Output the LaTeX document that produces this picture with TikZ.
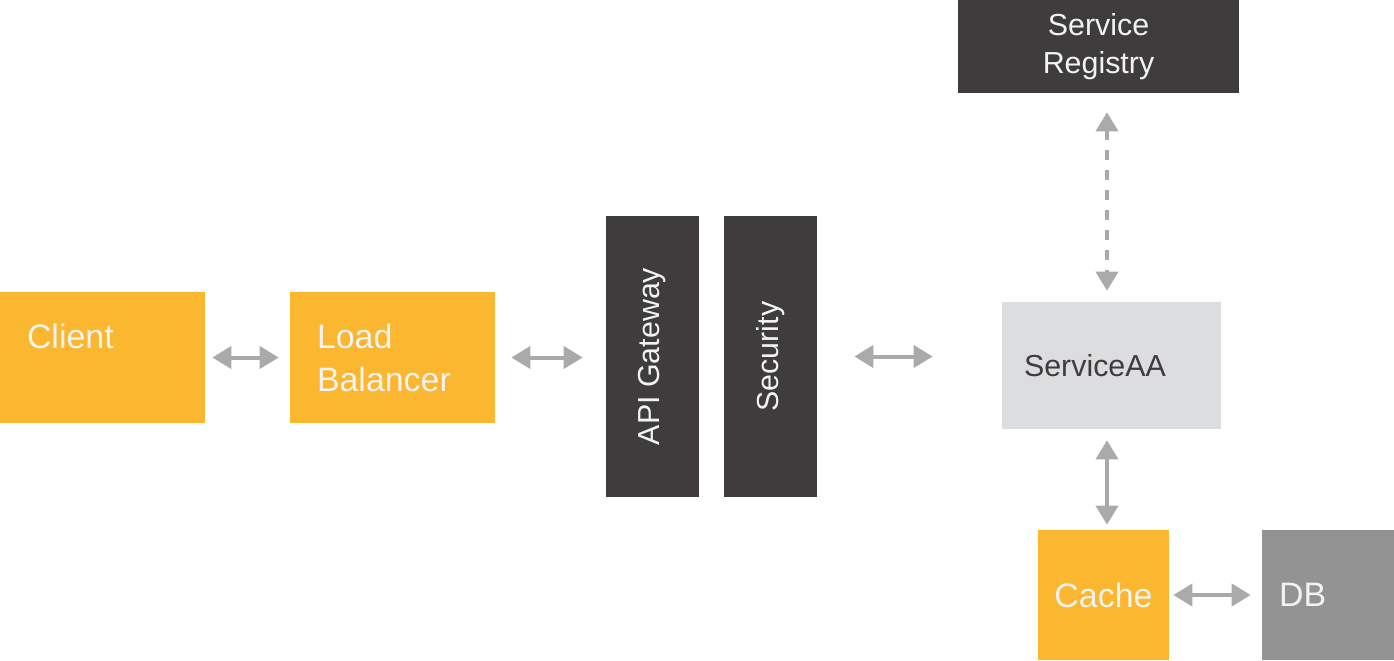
\documentclass[tikz,border=0pt]{standalone}
\usepackage{fontspec}
\setmainfont{Liberation Sans}
\usetikzlibrary{arrows.meta}
\definecolor{boxorange}{HTML}{FBB730}
\definecolor{boxdark}{HTML}{3E3C3D}
\definecolor{boxlight}{HTML}{DCDDDF}
\definecolor{boxgray}{HTML}{939393}
\definecolor{arrowgray}{HTML}{AAAAAA}
\definecolor{paletext}{HTML}{F3F3F3}
\begin{document}
\begin{tikzpicture}[
      x=0.02cm, y=-0.02cm,
      box/.style={
          rectangle, inner sep=0pt,
          text=paletext,
        },
      orangebox/.style={
          box, fill=boxorange,
          font=\fontsize{19.3}{24.4}\selectfont,
        },
      darkbox/.style={
          box, fill=boxdark,
          font=\fontsize{17.3}{21.5}\selectfont,
        },
      twoway/.style={
          arrowgray, line width=0.08cm,
          {Triangle[width=0.44cm,length=0.38cm]}-{Triangle[width=0.44cm,length=0.38cm]},
        }
    ]
    \useasboundingbox (0,0) rectangle (1394,660);

    \node[orangebox, align=left, inner xsep=0.54cm, text width=3.02cm, minimum height=2.62cm] (client) at (102.5,357.5) {Client\\~};
    \node[orangebox, align=left, inner xsep=0.54cm, text width=3.02cm, minimum height=2.62cm] (lb) at (392.5,357.5) {Load\\Balancer};
    \node[darkbox, minimum width=1.86cm, minimum height=5.62cm] (api) at (652.5,356.5) {\rotatebox{90}{API Gateway}};
    \node[darkbox, minimum width=1.86cm, minimum height=5.62cm] (sec) at (770.5,356.5) {\rotatebox{90}{Security}};
    \node[darkbox, align=center, minimum width=5.62cm, minimum height=1.86cm] (reg) at (1098.5,46.5) {Service\\Registry};
    \node[box, fill=boxlight, text=boxdark, font=\fontsize{17.3}{21.5}\selectfont, align=left, inner xsep=0.44cm, text width=3.5cm, minimum height=2.54cm] (saa) at (1111.5,365.5) {ServiceAA};
    \node[orangebox, minimum width=2.62cm, minimum height=2.6cm] (cache) at (1103.5,595) {Cache};
    \node[box, fill=boxgray, font=\fontsize{19.3}{24.4}\selectfont, align=left, inner xsep=0.34cm, text width=1.96cm, minimum height=2.6cm] (db) at (1328,595) {DB};

    \draw[twoway, shorten <=0.14cm, shorten >=0.22cm] (client) -- (lb);
    \draw[twoway, shorten <=0.32cm, shorten >=0.46cm] (lb.east) -- (lb.east -| api.west);
    \draw[twoway, shorten <=0.74cm, shorten >=1.38cm] (sec.east) -- (sec.east -| saa.west);
    \draw[twoway, dash pattern=on 0.2cm off 0.2cm, shorten <=0.38cm, shorten >=0.22cm]
    ([xshift=0.17cm]reg.south) -- ([xshift=0.17cm]reg.south |- saa.north);
    \draw[twoway, shorten <=0.22cm, shorten >=0.1cm]
    ([xshift=0.07cm]cache.north |- saa.south) -- ([xshift=0.07cm]cache.north);
    \draw[twoway, shorten <=0.08cm, shorten >=0.22cm] (cache) -- (db);
  \end{tikzpicture}
\end{document}
